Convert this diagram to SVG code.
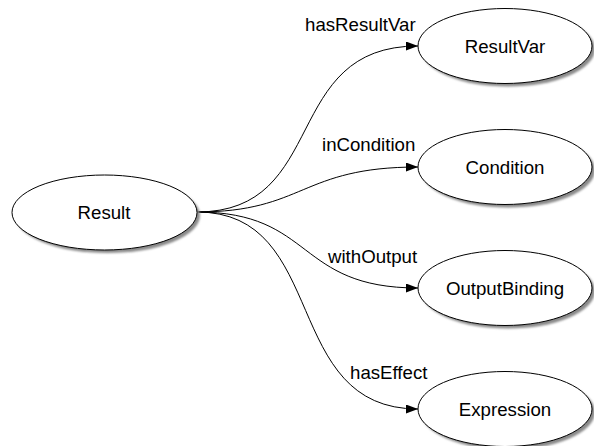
<svg xmlns="http://www.w3.org/2000/svg" width="594" height="446" viewBox="0 0 594 446">
  <style>
    .node ellipse.body { fill: #ffffff; stroke: #000000; stroke-width: 1; }
    .node ellipse.shadow { fill: #8a8a8a; filter: url(#soft); }
    .node text { font-family: "Liberation Sans", Arial, sans-serif; font-size: 18.67px; fill: #000000; text-anchor: middle; }
    .edge path { fill: none; stroke: #000000; stroke-width: 1; marker-end: url(#arrow); }
    .label { font-family: "Liberation Sans", Arial, sans-serif; font-size: 18.67px; fill: #000000; }
  </style>
  <defs>
    <filter id="soft" x="-10%" y="-20%" width="120%" height="140%">
      <feGaussianBlur stdDeviation="1.2"/>
    </filter>
    <marker id="arrow" markerWidth="12" markerHeight="9" refX="12" refY="4.5" orient="auto" markerUnits="userSpaceOnUse">
      <path d="M0,0 L12,4.5 L0,9 Z" fill="#000000"/>
    </marker>
  </defs>

  <rect width="594" height="446" fill="#ffffff"/>

  <!-- connectors -->
  <g id="edges">
    <g class="edge" id="e-hasResultVar">
      <path d="M197,212 C330,212 280,46 418,46"/>
    </g>
    <g class="edge" id="e-inCondition">
      <path d="M197,212 C305,212 300,167 418,167"/>
    </g>
    <g class="edge" id="e-withOutput">
      <path d="M197,212 C315,212 295,288 418,288"/>
    </g>
    <g class="edge" id="e-hasEffect">
      <path d="M197,212 C330,212 280,409 418,409"/>
    </g>
    <text class="label" x="305" y="31">hasResultVar</text>
    <text class="label" x="322" y="151">inCondition</text>
    <text class="label" x="328" y="263">withOutput</text>
    <text class="label" x="350" y="379">hasEffect</text>
  </g>

  <!-- nodes -->
  <g class="node" id="n-Result">
    <ellipse class="shadow" cx="107.5" cy="215.5" rx="92.5" ry="37.5"/>
    <ellipse class="body" cx="104.5" cy="212.5" rx="92.5" ry="37.5"/>
    <text x="104" y="219">Result</text>
  </g>
  <g class="node" id="n-ResultVar">
    <ellipse class="shadow" cx="508" cy="49" rx="87" ry="37.5"/>
    <ellipse class="body" cx="505" cy="46" rx="87" ry="37.5"/>
    <text x="505" y="52.5">ResultVar</text>
  </g>
  <g class="node" id="n-Condition">
    <ellipse class="shadow" cx="508" cy="170" rx="87" ry="37.5"/>
    <ellipse class="body" cx="505" cy="167" rx="87" ry="37.5"/>
    <text x="505" y="173.5">Condition</text>
  </g>
  <g class="node" id="n-OutputBinding">
    <ellipse class="shadow" cx="508" cy="291" rx="87" ry="37.5"/>
    <ellipse class="body" cx="505" cy="288" rx="87" ry="37.5"/>
    <text x="505" y="294.5">OutputBinding</text>
  </g>
  <g class="node" id="n-Expression">
    <ellipse class="shadow" cx="508" cy="412" rx="87" ry="37.5"/>
    <ellipse class="body" cx="505" cy="409" rx="87" ry="37.5"/>
    <text x="505" y="415.5">Expression</text>
  </g>
</svg>
